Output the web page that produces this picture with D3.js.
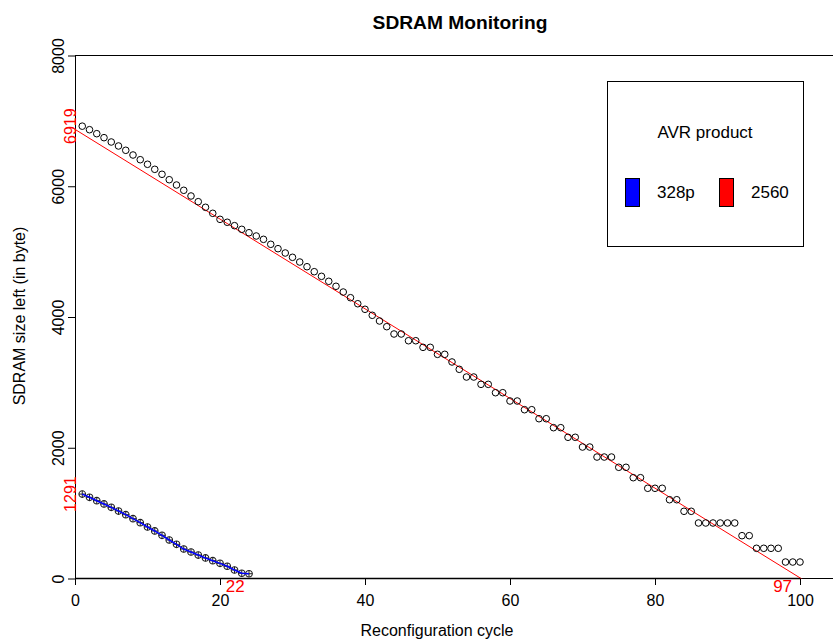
<!DOCTYPE html>
<html>
<head>
<meta charset="utf-8">
<script src="https://cdn.jsdelivr.net/npm/d3@7"></script>
<style>
  html, body { margin: 0; padding: 0; background: #fff; }
  svg { display: block; font-family: "Liberation Sans", Arial, Helvetica, sans-serif; }
</style>
</head>
<body>
<svg id="chart" width="833" height="641"></svg>
<script>
// ---- data ----
const chartTitle = "SDRAM Monitoring";
const xLabel = "Reconfiguration cycle";
const yLabel = "SDRAM size left (in byte)";
const xTicks = [0, 20, 40, 60, 80, 100];
const yTicks = [0, 2000, 4000, 6000, 8000];

// AVR 2560: SDRAM left per reconfiguration cycle (cycles 1..100)
const values2560 = [6919, 6865, 6804, 6743, 6677, 6616, 6550, 6478, 6406, 6336,
  6259, 6183, 6100, 6019, 5938, 5851, 5764, 5678, 5586, 5494,
  5449, 5397, 5341, 5289, 5239, 5188, 5112, 5045, 4979, 4913,
  4841, 4769, 4693, 4622, 4546, 4470, 4382, 4295, 4203, 4118,
  4026, 3939, 3852, 3740, 3740, 3637, 3637, 3536, 3536, 3429,
  3429, 3312, 3200, 3082, 3082, 2970, 2970, 2842, 2842, 2715,
  2715, 2582, 2582, 2444, 2444, 2307, 2307, 2160, 2160, 2011,
  2011, 1858, 1858, 1858, 1701, 1701, 1542, 1542, 1380, 1380,
  1380, 1205, 1205, 1028, 1028, 849, 849, 849, 849, 849,
  849, 655, 655, 462, 462, 462, 462, 252, 252, 252];

// AVR 328p: SDRAM left per reconfiguration cycle (cycles 1..24)
const values328p = [1291, 1242, 1190, 1140, 1089, 1032, 976, 915, 854, 788,
  727, 661, 589, 523, 451, 405, 359, 314, 272, 232,
  187, 130, 80, 73];

// linear fit for 2560 (intercept, slope)
const fit2560 = [6870, -68.6];

// highlighted start values (on y axis) and end cycles (on x axis)
const startLabels = [6919, 1291];
const endLabelPos = [22.1, 97.6];
const endLabelText = ["22", "97"];

const legendTitle = "AVR product";
const legendNames = ["328p", "2560"];
const legendColors = ["#0000ff", "#ff0000"];

// ---- drawing ----
const svg = d3.select("#chart");
svg.append("rect").attr("width", 833).attr("height", 641).attr("fill", "#fff");

const x = d3.scaleLinear().domain([0, 100]).range([75, 800]);
const y = d3.scaleLinear().domain([0, 8000]).range([578.5, 55.5]);
const plotRight = 860;

svg.append("defs").append("clipPath").attr("id", "clip")
  .append("rect").attr("x", 75).attr("y", 55.5).attr("width", plotRight - 75).attr("height", 523);

// box
svg.append("rect")
  .attr("x", 75.5).attr("y", 55.5).attr("width", plotRight - 75).attr("height", 523)
  .attr("fill", "none").attr("stroke", "#000").attr("stroke-width", 1);

// x axis
const gx = svg.append("g").attr("transform", "translate(0,578)")
  .call(d3.axisBottom(x).tickValues(xTicks).tickSize(7).tickSizeOuter(0).tickFormat(d3.format("d")));
gx.select(".domain").attr("stroke-width", 1.5);
gx.selectAll(".tick text").attr("font-size", 16).attr("y", 17).attr("dy", "0.71em")
  .attr("font-family", "Liberation Sans, Arial, sans-serif").attr("fill", "#000");

// y axis
const gy = svg.append("g").attr("transform", "translate(75,0)")
  .call(d3.axisLeft(y).tickValues(yTicks).tickSize(7).tickSizeOuter(0).tickFormat(d3.format("d")));
gy.selectAll(".tick text").remove();
gy.selectAll(".tick").append("text")
  .attr("transform", "translate(-11.5,0) rotate(-90)")
  .attr("text-anchor", "middle")
  .attr("font-size", 16)
  .attr("font-family", "Liberation Sans, Arial, sans-serif")
  .attr("fill", "#000")
  .text(d => d);

const plot = svg.append("g").attr("clip-path", "url(#clip)");

// regression line for 2560
const xEnd = -fit2560[0] / fit2560[1];
plot.append("line")
  .attr("x1", x(0)).attr("y1", y(fit2560[0]))
  .attr("x2", x(xEnd + 5)).attr("y2", y(fit2560[0] + fit2560[1] * (xEnd + 5)))
  .attr("stroke", "#ff0000").attr("stroke-width", 1);

// 2560 points
plot.selectAll("circle.p2560").data(values2560).enter().append("circle")
  .attr("class", "p2560")
  .attr("cx", (d, i) => x(i + 1)).attr("cy", d => y(d)).attr("r", 3.3)
  .attr("fill", "none").attr("stroke", "#000").attr("stroke-width", 1);

// 328p points (circle plus) and line
const g328 = plot.append("g");
const pts = g328.selectAll("g.p328").data(values328p).enter().append("g")
  .attr("class", "p328")
  .attr("transform", (d, i) => `translate(${x(i + 1)},${y(d)})`);
pts.append("circle").attr("r", 3.3).attr("fill", "none").attr("stroke", "#222").attr("stroke-width", 1.1);
pts.append("path").attr("d", "M-3.3,0H3.3M0,-3.3V3.3").attr("stroke", "#222").attr("stroke-width", 1);
g328.append("path")
  .datum(values328p)
  .attr("d", d3.line().x((d, i) => x(i + 1)).y(d => y(d)))
  .attr("fill", "none").attr("stroke", "#0000ff").attr("stroke-width", 1.5);

// red start labels on y axis
svg.selectAll("text.startLab").data(startLabels).enter().append("text")
  .attr("class", "startLab")
  .attr("transform", d => `translate(75.5,${y(d)}) rotate(-90)`)
  .attr("text-anchor", "middle")
  .attr("font-size", 16)
  .attr("fill", "#ff0000")
  .text(d => d);

// red end labels on x axis
svg.selectAll("text.endLab").data(endLabelPos).enter().append("text")
  .attr("class", "endLab")
  .attr("x", d => x(d)).attr("y", 592)
  .attr("text-anchor", "middle")
  .attr("font-size", 17)
  .attr("fill", "#ff0000")
  .text((d, i) => endLabelText[i]);

// titles
svg.append("text").attr("x", 460).attr("y", 29).attr("text-anchor", "middle")
  .attr("font-size", 19.2).attr("font-weight", "bold").text(chartTitle);
svg.append("text").attr("x", 437).attr("y", 636).attr("text-anchor", "middle")
  .attr("font-size", 16).text(xLabel);
svg.append("text").attr("transform", "translate(25,316) rotate(-90)").attr("text-anchor", "middle")
  .attr("font-size", 16).text(yLabel);

// legend
const lg = svg.append("g");
lg.append("rect").attr("x", 607.5).attr("y", 81.5).attr("width", 196).attr("height", 165)
  .attr("fill", "#fff").attr("stroke", "#000").attr("stroke-width", 1);
lg.append("text").attr("x", 705).attr("y", 137.5).attr("text-anchor", "middle")
  .attr("font-size", 17).text(legendTitle);
const legX = [625, 719];
legendNames.forEach((n, i) => {
  lg.append("rect").attr("x", legX[i] + 0.5).attr("y", 178.5).attr("width", 14).attr("height", 28)
    .attr("fill", legendColors[i]).attr("stroke", "#000").attr("stroke-width", 1);
  lg.append("text").attr("x", legX[i] + 32).attr("y", 198).attr("font-size", 17).text(n);
});
</script>
</body>
</html>
